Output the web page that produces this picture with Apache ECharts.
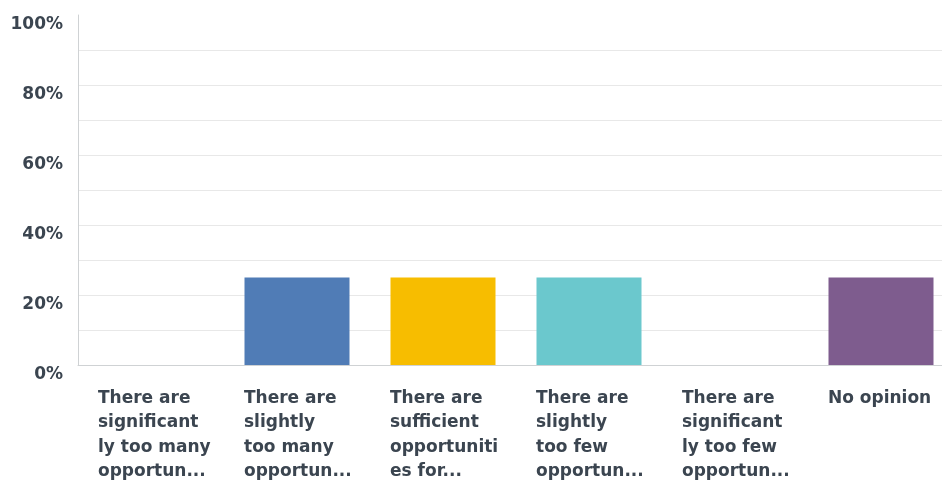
<!DOCTYPE html>
<html>
<head>
<meta charset="utf-8">
<script src="https://cdn.jsdelivr.net/npm/echarts@6/dist/echarts.min.js"></script>
<style>html,body{margin:0;padding:0;background:#fff;overflow:hidden;width:942px;height:481px;}#c{width:954px;height:481px;}</style>
</head>
<body>
<div id="c"></div>
<script>
const categories = [
  "There are\nsignificant\nly too many\nopportun...",
  "There are\nslightly\ntoo many\nopportun...",
  "There are\nsufficient\nopportuniti\nes for...",
  "There are\nslightly\ntoo few\nopportun...",
  "There are\nsignificant\nly too few\nopportun...",
  "No opinion"
];
const values = [0, 25, 25, 25, 0, 25];
const barColors = ["#507cb6", "#507cb6", "#f7bd00", "#6bc8cd", "#507cb6", "#7e5c8e"];
const yTicks = [0, 20, 40, 60, 80, 100];

const FONT = "DejaVu Sans";
const TXT = "#3b4550";
const chart = echarts.init(document.getElementById('c'), null, {renderer: 'canvas'});
chart.setOption({
  animation: false,
  grid: {left: 78, top: 15, right: 0, bottom: 116, containLabel: false},
  xAxis: {
    type: 'category',
    data: categories,
    axisLine: {show: true, lineStyle: {color: '#cfd2d4', width: 1}},
    axisTick: {show: false},
    axisLabel: {
      interval: 0,
      margin: 21,
      align: 'center',
      width: 106,
      overflow: 'none',
      formatter: v => v.split('\n').map(l => '{a|' + l + '}').join('\n'),
      rich: {a: {align: 'left', fontFamily: FONT, fontSize: 17, fontWeight: 'bold', lineHeight: 24.5, color: TXT}}
    }
  },
  yAxis: {
    type: 'value',
    min: 0, max: 100, interval: 20,
    axisLine: {show: true, lineStyle: {color: '#cfd2d4', width: 1}},
    axisTick: {show: false},
    splitLine: {show: true, lineStyle: {color: ['#e8e8e8', '#e8e8e8', '#e8e8e8', '#e8e8e8', '#e8e8e8', 'rgba(0,0,0,0)'], width: 1}},
    minorTick: {show: false, splitNumber: 2},
    minorSplitLine: {show: true, lineStyle: {color: '#e8e8e8', width: 1}},
    axisLabel: {
      margin: 15,
      formatter: v => yTicks.includes(v) ? v + '%' : '',
      fontFamily: FONT, fontSize: 17, fontWeight: 'bold', color: TXT,
      verticalAlign: 'top', lineHeight: 20
    }
  },
  series: [{
    type: 'bar',
    data: values.map((v, i) => ({value: v, itemStyle: {color: barColors[i]}})),
    barWidth: 105
  }]
});
</script>
</body>
</html>
